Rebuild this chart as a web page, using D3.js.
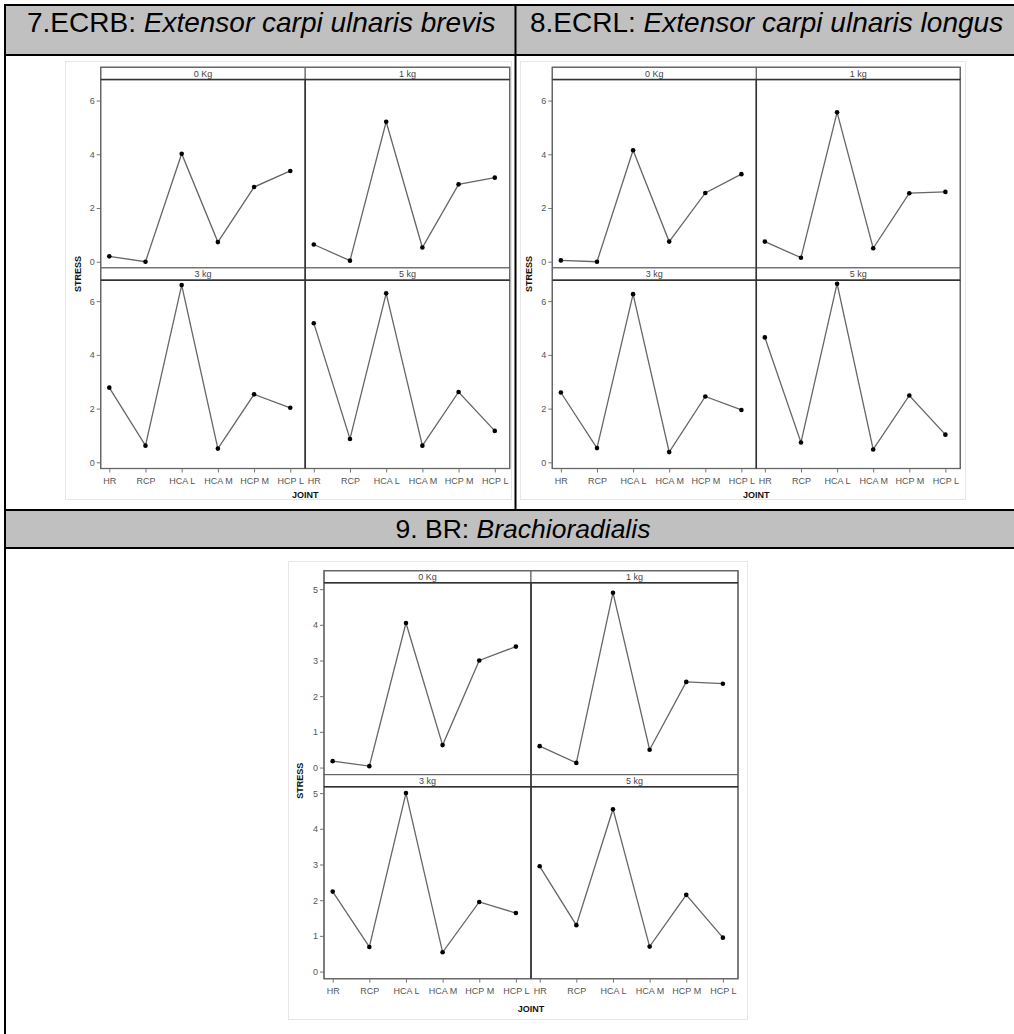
<!DOCTYPE html>
<html><head><meta charset="utf-8">
<script src="https://cdn.jsdelivr.net/npm/d3@7"></script>
<style>
html,body{margin:0;padding:0;background:#fff;}
svg{display:block;}
</style></head>
<body>
<svg id="c" width="1014" height="1034"></svg>
<script>
// ---------- DATA ----------
const joints = ["HR", "RCP", "HCA L", "HCA M", "HCP M", "HCP L"];
const loads = ["0 Kg", "1 kg", "3 kg", "5 kg"];
const titles = ["7.ECRB: ", "8.ECRL: ", "9. BR: "];
const titleItalic = ["Extensor carpi ulnaris brevis", "Extensor carpi ulnaris longus", "Brachioradialis"];
const ecrb0 = [0.20, 0.00, 4.02, 0.73, 2.78, 3.38];
const ecrb1 = [0.64, 0.04, 5.21, 0.53, 2.88, 3.13];
const ecrb3 = [2.78, 0.62, 6.60, 0.51, 2.53, 2.03];
const ecrb5 = [5.18, 0.87, 6.29, 0.62, 2.62, 1.17];
const ecrl0 = [0.05, 0.00, 4.15, 0.75, 2.56, 3.26];
const ecrl1 = [0.75, 0.15, 5.56, 0.50, 2.55, 2.60];
const ecrl3 = [2.60, 0.53, 6.26, 0.38, 2.45, 1.95];
const ecrl5 = [4.65, 0.74, 6.65, 0.48, 2.49, 1.03];
const br0 = [0.18, 0.04, 4.05, 0.63, 3.00, 3.39];
const br1 = [0.60, 0.13, 4.90, 0.50, 2.40, 2.35];
const br3 = [2.24, 0.69, 5.00, 0.54, 1.95, 1.64];
const br5 = [2.95, 1.30, 4.55, 0.70, 2.15, 0.95];
const ticksTop = [0, 2, 4, 6];
const ticksBR = [0, 1, 2, 3, 4, 5];
const yLabel = "STRESS";
const xLabel = "JOINT";

// ---------- DRAW ----------
const svg = d3.select("#c");
const FONT = "Liberation Sans, Arial, Helvetica, sans-serif";
const FS = 9;

// table fills
svg.append("rect").attr("x", 5).attr("y", 5).attr("width", 1014).attr("height", 50).attr("fill", "#c0c0c0");
svg.append("rect").attr("x", 5).attr("y", 510).attr("width", 1014).attr("height", 38).attr("fill", "#c0c0c0");

function frame(x, y, w, h) {
  svg.append("rect").attr("x", x).attr("y", y).attr("width", w).attr("height", h)
    .attr("fill", "#fff").attr("stroke", "#e6e6e6").attr("stroke-width", 1);
}
frame(65.5, 61.5, 446, 438);
frame(520.5, 61.5, 445, 438);
frame(288.5, 561.5, 459, 458);

function facet(opts) {
  const { x0, y0, pw, ph, sh, domain, ticks, data } = opts;
  const g = svg.append("g");
  const xs = d3.scalePoint().domain(joints).range([pw * 0.042, pw * 0.927]);
  const ys = d3.scaleLinear().domain(domain).range([ph, 0]);
  const col = "#555";
  for (let r = 0; r < 2; r++) {
    for (let c = 0; c < 2; c++) {
      const k = r * 2 + c;
      const px = x0 + c * pw;
      const sy = y0 + r * (sh + ph);
      const py = sy + sh;
      const pg = g.append("g").attr("transform", `translate(${px},${py})`);
      // strip
      g.append("rect").attr("x", px).attr("y", sy).attr("width", pw).attr("height", sh)
        .attr("fill", "#fff").attr("stroke", col).attr("stroke-width", 1);
      g.append("text").attr("x", px + pw / 2).attr("y", sy + sh / 2 + 3.3)
        .attr("text-anchor", "middle").attr("font-family", FONT).attr("font-size", FS)
        .attr("fill", "#444").text(loads[k]);
      // series
      const line = d3.line().x((d, i) => xs(joints[i])).y(d => ys(d));
      pg.append("path").datum(data[k]).attr("d", line).attr("fill", "none")
        .attr("stroke", "#666").attr("stroke-width", 1.3);
      pg.selectAll("circle").data(data[k]).enter().append("circle")
        .attr("cx", (d, i) => xs(joints[i])).attr("cy", d => ys(d)).attr("r", 2.3).attr("fill", "#000");
      // panel border
      g.append("rect").attr("x", px).attr("y", py).attr("width", pw).attr("height", ph)
        .attr("fill", "none").attr("stroke", col).attr("stroke-width", 1);
      // y axis on left column
      if (c === 0) {
        const ax = d3.axisLeft(ys).tickValues(ticks).tickSize(4).tickPadding(2).tickFormat(d3.format("d"));
        const a = g.append("g").attr("transform", `translate(${px},${py})`).call(ax);
        a.select(".domain").remove();
        a.selectAll("line").attr("stroke", "#777");
        a.selectAll("text").attr("font-family", FONT).attr("font-size", FS).attr("fill", "#555");
      }
      // x axis on bottom row
      if (r === 1) {
        const ax = d3.axisBottom(xs).tickSize(4).tickPadding(5);
        const a = g.append("g").attr("transform", `translate(${px},${py + ph})`).call(ax);
        a.select(".domain").remove();
        a.selectAll("line").attr("stroke", "#777");
        a.selectAll("text").attr("font-family", FONT).attr("font-size", FS).attr("fill", "#555");
      }
    }
  }
  // thicker outlines
  const totW = pw * 2, totH = 2 * (sh + ph);
  g.append("rect").attr("x", x0).attr("y", y0).attr("width", totW).attr("height", totH)
    .attr("fill", "none").attr("stroke", "#666").attr("stroke-width", 1.3);
  g.append("line").attr("x1", x0 + pw).attr("x2", x0 + pw).attr("y1", y0 + sh).attr("y2", y0 + totH)
    .attr("stroke", "#333").attr("stroke-width", 1.5);
  [y0 + sh, y0 + sh + ph + sh].forEach(yy => {
    g.append("line").attr("x1", x0).attr("x2", x0 + totW).attr("y1", yy).attr("y2", yy)
      .attr("stroke", "#333").attr("stroke-width", 1.5);
  });
  // labels
  svg.append("text").attr("transform", `translate(${opts.ylx},${y0 + sh + ph + sh / 2}) rotate(-90)`)
    .attr("text-anchor", "middle").attr("font-family", FONT).attr("font-weight", "bold")
    .attr("font-size", FS).attr("fill", "#111").text(yLabel);
  svg.append("text").attr("x", x0 + pw).attr("y", y0 + totH + opts.xly)
    .attr("text-anchor", "middle").attr("font-family", FONT).attr("font-weight", "bold")
    .attr("font-size", FS).attr("fill", "#111").text(xLabel);
}

facet({ x0: 100.7, y0: 67.3, pw: 204.5, ph: 188.3, sh: 12.3, domain: [-0.23, 6.78], ticks: ticksTop,
  data: [ecrb0, ecrb1, ecrb3, ecrb5], ylx: 81, xly: 29 });
facet({ x0: 552.3, y0: 67.3, pw: 204, ph: 188.3, sh: 12.3, domain: [-0.23, 6.78], ticks: ticksTop,
  data: [ecrl0, ecrl1, ecrl3, ecrl5], ylx: 532, xly: 29 });
facet({ x0: 324, y0: 570.7, pw: 207, ph: 192, sh: 12, domain: [-0.2, 5.18], ticks: ticksBR,
  data: [br0, br1, br3, br5], ylx: 303, xly: 33 });

// table lines
const L = (x1, y1, x2, y2, w) => svg.append("line").attr("x1", x1).attr("y1", y1).attr("x2", x2).attr("y2", y2)
  .attr("stroke", "#000").attr("stroke-width", w || 2);
L(4, 5, 1014, 5); L(4, 55, 1014, 55); L(4, 510, 1014, 510); L(4, 548, 1014, 548);
L(5, 4, 5, 1034); L(515.5, 5, 515.5, 510);

// headers
function header(x, y, i, anchor, fs) {
  const t = svg.append("text").attr("x", x).attr("y", y).attr("font-family", FONT)
    .attr("font-size", fs).attr("fill", "#000").attr("text-anchor", anchor || "start");
  t.append("tspan").text(titles[i]);
  t.append("tspan").attr("font-style", "italic").text(titleItalic[i]);
}
header(27, 32, 0, "start", 28);
header(530, 32, 1, "start", 28);
header(523, 538, 2, "middle", 26.5);
</script>
</body></html>
